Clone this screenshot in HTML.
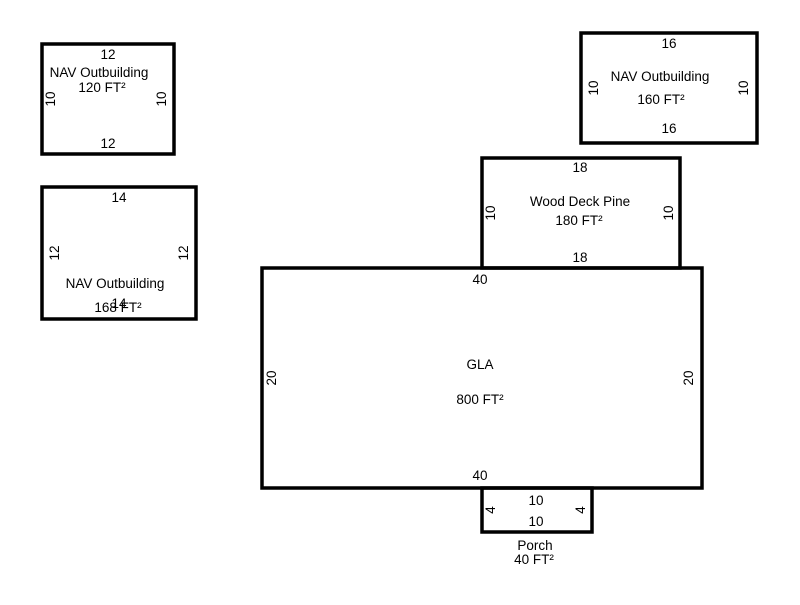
<!DOCTYPE html>
<html><head><style>body{margin:0;background:#fff}</style></head><body>
<svg width="800" height="600" xmlns="http://www.w3.org/2000/svg" font-family="Liberation Sans, Arial, sans-serif" font-size="13.5" fill="#000">
<g fill="none" stroke="#000" stroke-width="3.5">
<rect x="42" y="44" width="132" height="110"/>
<rect x="42" y="187" width="154" height="132"/>
<rect x="581" y="33" width="176" height="110"/>
<rect x="482" y="158" width="198" height="110"/>
<rect x="262" y="268" width="440" height="220"/>
<rect x="482" y="488" width="110" height="44"/>
</g>
<g text-anchor="middle">
<text x="108" y="59">12</text>
<text x="99" y="77">NAV Outbuilding</text>
<text x="102" y="92">120 FT²</text>
<text x="108" y="148">12</text>
<text transform="translate(55,99) rotate(-90)">10</text>
<text transform="translate(166,99) rotate(-90)">10</text>

<text x="119" y="202">14</text>
<text transform="translate(59,253) rotate(-90)">12</text>
<text transform="translate(188,253) rotate(-90)">12</text>
<text x="115" y="288">NAV Outbuilding</text>
<text x="118" y="312">168 FT²</text>
<text x="119" y="308">14</text>

<text x="669" y="48">16</text>
<text x="660" y="81">NAV Outbuilding</text>
<text x="661" y="104">160 FT²</text>
<text x="669" y="133">16</text>
<text transform="translate(598,88) rotate(-90)">10</text>
<text transform="translate(748,88) rotate(-90)">10</text>

<text x="580" y="172">18</text>
<text x="580" y="206">Wood Deck Pine</text>
<text x="579" y="225">180 FT²</text>
<text x="580" y="262">18</text>
<text transform="translate(495,213) rotate(-90)">10</text>
<text transform="translate(673,213) rotate(-90)">10</text>

<text x="480" y="284">40</text>
<text x="480" y="369">GLA</text>
<text x="480" y="404">800 FT²</text>
<text x="480" y="480">40</text>
<text transform="translate(276,378) rotate(-90)">20</text>
<text transform="translate(693,378) rotate(-90)">20</text>

<text x="536" y="505">10</text>
<text x="536" y="526">10</text>
<text transform="translate(495,510) rotate(-90)">4</text>
<text transform="translate(585,510) rotate(-90)">4</text>
<text x="535" y="550">Porch</text>
<text x="534" y="564">40 FT²</text>
</g>
</svg>
</body></html>
